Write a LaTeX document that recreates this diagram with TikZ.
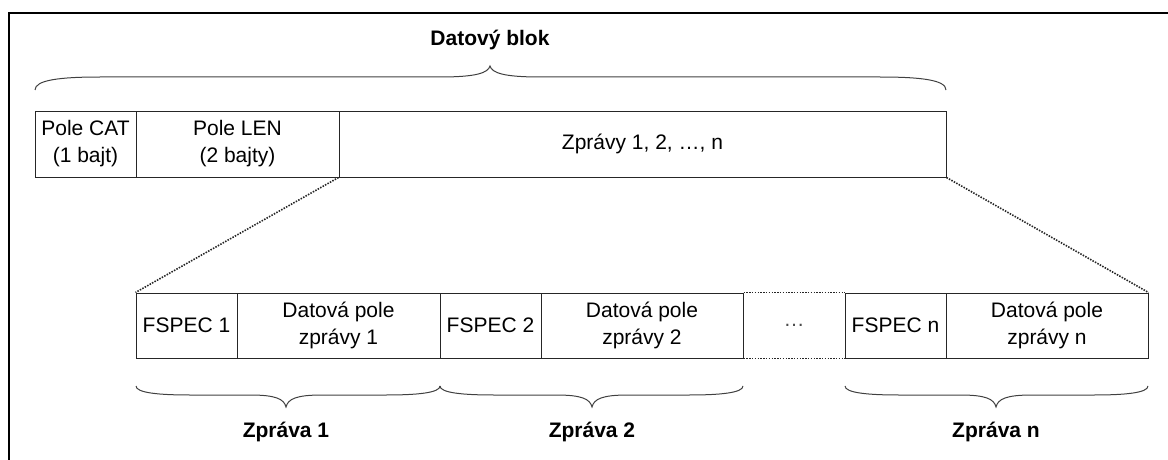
\documentclass[tikz,border=0pt]{standalone}
\usepackage{fontspec}
\setmainfont{Liberation Sans}
\begin{document}
\begin{tikzpicture}[x=1pt,y=-1pt,
  fld/.style={draw=black!85,line width=1pt,inner sep=0pt,minimum height=66pt,align=center,
    font=\fontsize{21}{27}\selectfont},
  bfld/.style={fld,minimum height=65pt},
  brc/.style={draw=black!75,line width=1pt},
  dotl/.style={draw=black!85,line width=1.6pt,dash pattern=on 1.5pt off 1.3pt},
  lbl/.style={font=\fontsize{21}{25}\selectfont\bfseries,inner sep=0pt}]
\useasboundingbox (0,0) rectangle (1168,460);
\draw[line width=2pt] (9,460) -- (9,13) -- (1168,13);
% top row
\node[fld,minimum width=101pt] (cat) at (85.5,144) {Pole CAT\\(1 bajt)};
\node[fld,minimum width=203pt] (len) at (237.5,144) {Pole LEN\\(2 bajty)};
\node[fld,minimum width=607pt] (zpr) at (642.5,144) {Zprávy 1, 2, …, n};
% bottom row
\node[bfld,minimum width=101pt] (f1) at (186.5,325.5) {FSPEC 1};
\node[bfld,minimum width=203pt] (d1) at (338.5,325.5) {Datová pole\\zprávy 1};
\node[bfld,minimum width=101pt] (f2) at (490.5,325.5) {FSPEC 2};
\node[bfld,minimum width=202pt] (d2) at (642,325.5) {Datová pole\\zprávy 2};
\node[inner sep=0pt,font=\fontsize{21}{25}\selectfont,text=black!70] (el) at (794,325.5) {…};
\node[bfld,minimum width=101pt] (fn) at (895.5,325.5) {FSPEC n};
\node[bfld,minimum width=202pt] (dn) at (1047,325.5) {Datová pole\\zprávy n};
\draw[dotl,line width=1.2pt] (d2.north east) -- (fn.north west);
\draw[dotl,line width=1.2pt] (d2.south east) -- (fn.south west);
% zoom lines
\draw[dotl] (zpr.south west) -- (f1.north west);
\draw[dotl] (zpr.south east) -- (dn.north east);
% top brace
\draw[brc] (35,90) .. controls (35,80) and (60,77) .. (100,77) -- (440,77)
  .. controls (476,77) and (488,73) .. (490,66)
  .. controls (492,73) and (504,77) .. (540,77) -- (880,77)
  .. controls (921,77) and (946,80) .. (946,90);
\node[lbl] (tb) at (490,40) {Datový blok};
% bottom braces
\draw[brc] (136,386) .. controls (136,393) and (160,395) .. (190,395) -- (250,395)
  .. controls (276,395) and (284,399) .. (286,407)
  .. controls (288,399) and (296,395) .. (322,395) -- (386,395)
  .. controls (416,395) and (440,393) .. (440,386);
\draw[brc] (440,386) .. controls (440,393) and (464,395) .. (494,395) -- (556,395)
  .. controls (582,395) and (590,399) .. (592,407)
  .. controls (594,399) and (602,395) .. (628,395) -- (689,395)
  .. controls (719,395) and (743,393) .. (743,386);
\draw[brc] (845,386) .. controls (845,393) and (869,395) .. (899,395) -- (960,395)
  .. controls (986,395) and (994,399) .. (996,407)
  .. controls (998,399) and (1006,395) .. (1032,395) -- (1094,395)
  .. controls (1124,395) and (1148,393) .. (1148,386);
\node[lbl] (m1) at (286,432) {Zpráva 1};
\node[lbl] (m2) at (592,432) {Zpráva 2};
\node[lbl] (mn) at (996,432) {Zpráva n};
\end{tikzpicture}
\end{document}
